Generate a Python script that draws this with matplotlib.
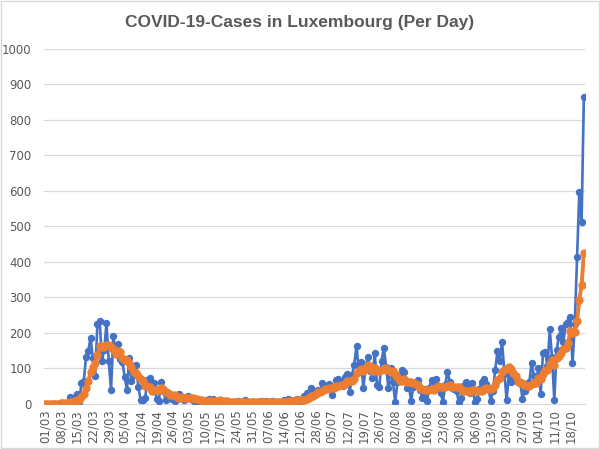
import numpy as np
import pandas as pd
import matplotlib
matplotlib.use('Agg')
import matplotlib.pyplot as plt
from matplotlib.patches import Rectangle

# daily new cases, 01/03/2020 .. 24/10/2020
cases_mar = [0, 0, 0, 0, 0, 0, 0, 2, 2, 0, 2, 19, 8, 17, 26, 4, 59, 63, 132, 149, 186,
             128, 77, 224, 234, 120, 152, 226, 119, 38, 190]
cases_apr = [141, 168, 125, 117, 75, 39, 127, 64, 81, 108, 47, 11, 11, 15, 66, 71, 36, 57,
             13, 8, 60, 36, 11, 30, 16, 12, 6, 12, 28, 15]
cases_may = [11, 18, 20, 13, 10, 3, 11, 2, 4, 5, 9, 14, 7, 13, 5, 5, 8, 3, 6, 4, 2, 3, 2,
             4, 6, 2, 3, 10, 3, 0, 4]
cases_jun = [5, 5, 2, 8, 5, 6, 4, 3, 7, 2, 4, 3, 5, 9, 7, 12, 10, 3, 10, 14, 4, 10, 22,
             30, 18, 44, 30, 36, 38, 34]
cases_jul = [57, 41, 50, 55, 24, 45, 66, 68, 61, 48, 76, 84, 33, 80, 110, 163, 89, 118, 44,
             103, 132, 93, 72, 142, 53, 47, 120, 157, 104, 45, 100]
cases_aug = [60, 5, 60, 78, 94, 89, 43, 50, 8, 47, 55, 66, 38, 15, 40, 8, 45, 66, 60, 70,
             48, 29, 5, 52, 90, 62, 44, 40, 35, 3, 15]
cases_sep = [48, 61, 43, 30, 58, 5, 12, 40, 62, 70, 55, 45, 8, 35, 95, 148, 120, 174, 90,
             10, 80, 60, 66, 70, 61, 60, 14, 35, 49, 60]
cases_oct = [115, 79, 60, 100, 27, 142, 146, 105, 209, 130, 10, 150, 188, 212, 174, 224,
             231, 245, 113, 223, 414, 596, 513, 864]

# 7-day average line (orange)
avg_mar = [0, 0, 0, 0, 0, 0, 0, 0.3, 0.6, 0.6, 0.9, 3.6, 4.7, 7.1, 10.6, 10.9, 19.3, 28.0,
           44.1, 64.3, 88.4, 103.0, 113.4, 137.0, 161.4, 159.7, 160.1, 165.9, 164.6, 159.0,
           154.1]
avg_apr = [140.9, 147.7, 143.9, 128.3, 122.0, 122.1, 113.1, 102.1, 89.7, 87.3, 77.3, 68.1,
           64.1, 48.1, 48.4, 47.0, 36.7, 38.1, 38.4, 38.0, 44.4, 40.1, 31.6, 30.7, 24.9,
           24.7, 24.4, 17.6, 16.4, 17.0]
avg_may = [14.3, 14.6, 15.7, 16.7, 16.4, 12.9, 12.3, 11.0, 9.0, 6.9, 6.3, 6.9, 7.4, 7.7,
           8.1, 8.3, 8.7, 7.9, 6.7, 6.3, 4.7, 4.4, 4.0, 3.4, 3.9, 3.3, 3.1, 4.3, 4.3, 4.0, 4.0]
avg_jun = [3.9, 4.3, 4.1, 3.9, 4.1, 5.0, 5.0, 4.7, 5.0, 5.0, 4.4, 4.1, 4.0, 4.7, 5.3, 6.0,
           7.1, 7.0, 8.0, 9.3, 8.6, 9.0, 10.4, 13.3, 15.4, 20.3, 22.6, 27.1, 31.1, 32.9]
avg_jul = [36.7, 40.0, 40.9, 44.4, 42.7, 43.7, 48.3, 49.9, 52.7, 52.4, 55.4, 64.0, 62.3,
           64.3, 70.3, 84.9, 90.7, 96.7, 91.0, 101.0, 108.4, 106.0, 93.0, 100.6, 91.3, 91.7,
           94.1, 97.7, 99.3, 95.4, 89.4]
avg_aug = [90.4, 84.4, 75.9, 64.6, 63.1, 69.4, 61.3, 59.9, 60.3, 58.4, 55.1, 51.1, 43.9,
           39.9, 38.4, 38.4, 38.1, 39.7, 38.9, 43.4, 48.1, 46.6, 46.1, 47.1, 50.6, 50.9,
           47.1, 46.0, 46.9, 46.6, 41.3]
avg_sep = [35.3, 35.1, 35.0, 33.6, 36.9, 37.1, 36.7, 35.6, 35.7, 39.6, 43.1, 41.3, 41.7,
           45.0, 52.9, 65.1, 72.3, 89.3, 95.7, 96.0, 102.4, 97.4, 85.7, 78.6, 62.4, 58.1,
           58.7, 52.3, 50.7, 49.9]
avg_oct = [56.3, 58.9, 58.9, 71.1, 70.0, 83.3, 95.6, 94.1, 112.7, 122.7, 109.9, 127.4,
           134.0, 143.4, 153.3, 155.4, 169.9, 203.4, 198.1, 203.1, 232.0, 292.3, 333.6, 424.0]

cases = cases_mar + cases_apr + cases_may + cases_jun + cases_jul + cases_aug + cases_sep + cases_oct
avg = avg_mar + avg_apr + avg_may + avg_jun + avg_jul + avg_aug + avg_sep + avg_oct

dates = pd.date_range('2020-03-01', periods=len(cases))
labels = [d.strftime('%d/%m') for d in dates]
x = np.arange(len(cases))

grey = '#595959'
fig = plt.figure(figsize=(6.0, 4.49), dpi=100)
fig.patches.append(Rectangle((0.002, 0.002), 0.996, 0.996, transform=fig.transFigure,
                             fill=False, edgecolor='#D9D9D9', linewidth=1))
ax = fig.add_axes([0.0733, 0.1013, 0.9017, 0.7897])

ax.plot(x, cases, color='#4472C4', lw=1.9, marker='o', ms=4.3, zorder=3)
ax.plot(x, avg, color='#ED7D31', lw=2.8, marker='o', ms=5.0, zorder=4)

ax.set_xlim(-0.5, len(cases) - 0.5)
ax.set_ylim(0, 1000)
ax.set_yticks(range(0, 1001, 100))
ax.set_xticks(x[::7])
ax.set_xticklabels(labels[::7], rotation=90)
ax.tick_params(axis='both', length=0, colors=grey, labelsize=8.5)
ax.tick_params(axis='x', pad=4)
ax.tick_params(axis='y', pad=9)
ax.yaxis.grid(True, color='#D9D9D9', lw=0.9)
ax.set_axisbelow(True)
for s in ax.spines.values():
    s.set_visible(False)
ax.spines['bottom'].set_visible(True)
ax.spines['bottom'].set_color('#D9D9D9')

fig.text(0.5, 0.95, 'COVID-19-Cases in Luxembourg (Per Day)', ha='center', va='center',
         fontsize=12.5, fontweight='bold', color=grey, family='Liberation Sans')

fig.savefig('out.png', dpi=100)
